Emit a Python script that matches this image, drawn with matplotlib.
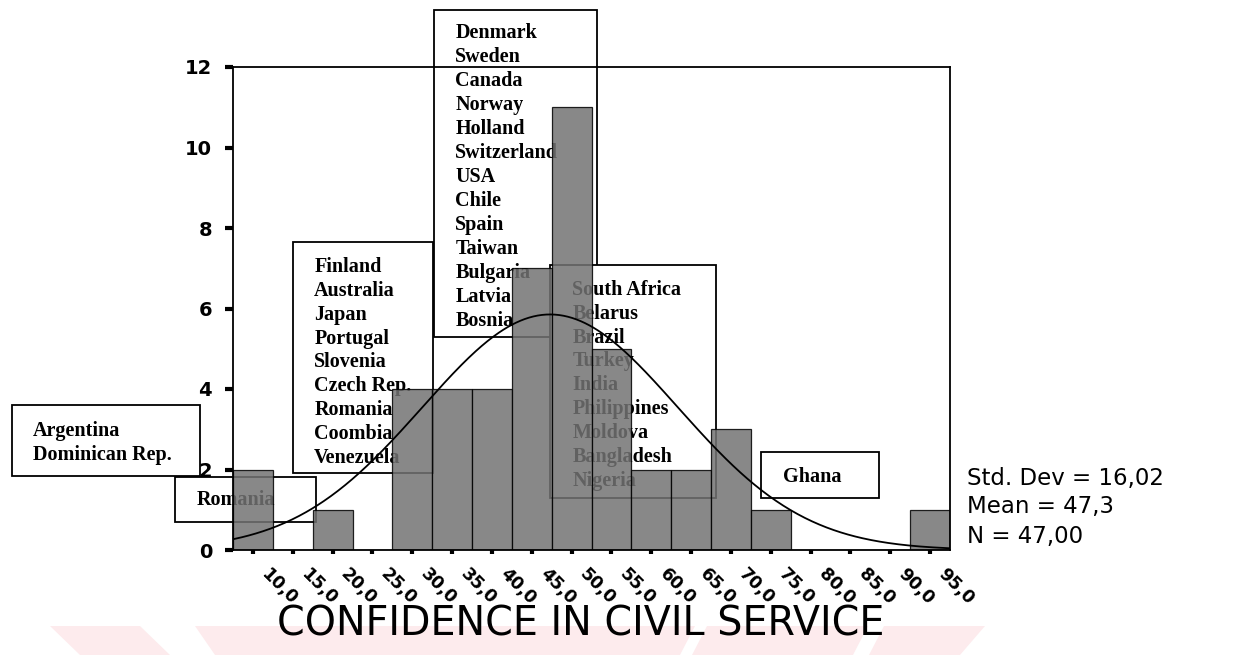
import numpy as np
import matplotlib
matplotlib.use("Agg")
import matplotlib.pyplot as plt
from matplotlib.patches import Rectangle, Polygon
from matplotlib.transforms import ScaledTranslation

# ---------------- data ----------------
bin_centers = [10, 15, 20, 25, 30, 35, 40, 45, 50, 55, 60, 65, 70, 75, 80, 85, 90, 95]
counts      = [2, 0, 1, 0, 4, 4, 4, 7, 11, 5, 2, 2, 3, 1, 0, 0, 0, 1]
bin_width = 5
tick_labels = ["10,0", "15,0", "20,0", "25,0", "30,0", "35,0", "40,0", "45,0", "50,0",
               "55,0", "60,0", "65,0", "70,0", "75,0", "80,0", "85,0", "90,0", "95,0"]
y_ticks = [0, 2, 4, 6, 8, 10, 12]
std_dev = 16.02
mean = 47.3
n_obs = 47
stats_lines = ["Std. Dev = 16,02", "Mean = 47,3", "N = 47,00"]
x_title = "CONFIDENCE IN CIVIL SERVICE"

group_argentina = ["Argentina", "Dominican Rep."]
group_romania = ["Romania"]
group_finland = ["Finland", "Australia", "Japan", "Portugal", "Slovenia",
                 "Czech Rep.", "Romania", "Coombia", "Venezuela"]
group_denmark = ["Denmark", "Sweden", "Canada", "Norway", "Holland", "Switzerland",
                 "USA", "Chile", "Spain", "Taiwan", "Bulgaria", "Latvia", "Bosnia"]
group_safrica = ["South Africa", "Belarus", "Brazil", "Turkey", "India",
                 "Philippines", "Moldova", "Bangladesh", "Nigeria"]
group_ghana = ["Ghana"]

# ---------------- figure ----------------
W, H = 1255, 655
fig = plt.figure(figsize=(W / 100, H / 100), dpi=100)
fig.patch.set_facecolor("white")

def px(x, y):
    return (x / W, 1 - y / H)

# faint pink watermark shapes behind the title
wm_shapes = [
    [(50, 626), (140, 626), (170, 655), (80, 655)],
    [(195, 626), (695, 626), (680, 655), (215, 655)],
    [(707, 626), (868, 626), (853, 655), (692, 655)],
    [(884, 626), (985, 626), (960, 655), (869, 655)],
]
for shp in wm_shapes:
    fig.patches.append(Polygon([px(*p) for p in shp], closed=True,
                               transform=fig.transFigure, facecolor="#fdebed",
                               edgecolor="none", zorder=0))

ax_left, ax_right, ax_top, ax_bot = 233, 950, 67, 550
ax = fig.add_axes([ax_left / W, 1 - ax_bot / H, (ax_right - ax_left) / W,
                   (ax_bot - ax_top) / H])
ax.set_xlim(7.5, 97.5)
ax.set_ylim(0, 12)
ax.set_facecolor("white")

serif = dict(family="Liberation Serif", weight="bold", fontsize=14.5)

def box(x0, x1, y0, y1, names, tx, ty0, dy):
    ax.add_patch(Rectangle((x0, y0), x1 - x0, y1 - y0, facecolor="white",
                           edgecolor="black", linewidth=1.3, zorder=1,
                           clip_on=False))
    for i, nm in enumerate(names):
        ax.text(tx, ty0 - i * dy, nm, ha="left", va="center", zorder=1.5,
                clip_on=False, **serif)

box(-20.2, 3.3, 1.85, 3.60, group_argentina, -17.6, 2.96, 0.595)
box(15.0, 32.6, 1.91, 7.65, group_finland, 17.7, 7.03, 0.592)
box(32.7, 53.2, 5.29, 13.42, group_denmark, 35.4, 12.84, 0.596)
box(47.3, 68.1, 1.29, 7.08, group_safrica, 50.1, 6.46, 0.592)
box(0.2, 17.9, 0.70, 1.81, group_romania, 3.0, 1.24, 0.59)
box(73.8, 88.6, 1.29, 2.43, group_ghana, 76.5, 1.82, 0.59)

# histogram bars
ax.bar(bin_centers, counts, width=bin_width, color="#737373", edgecolor="black",
       linewidth=0.9, alpha=0.85, zorder=3)

# fitted normal curve
xs = np.linspace(7.5, 97.5, 500)
ys = n_obs * bin_width / (std_dev * np.sqrt(2 * np.pi)) * np.exp(-0.5 * ((xs - mean) / std_dev) ** 2)
ax.plot(xs, ys, color="black", linewidth=1.3, zorder=4)

for s in ax.spines.values():
    s.set_linewidth(1.3)
    s.set_color("black")
    s.set_zorder(5)

ax.set_yticks(y_ticks)
ax.set_yticklabels([str(v) for v in y_ticks], family="DejaVu Sans",
                   fontsize=14, weight="bold")
ax.tick_params(axis="y", direction="out", length=6, width=3, pad=9)

ax.set_xticks(bin_centers)
ax.set_xticklabels([])
ax.tick_params(axis="x", direction="out", length=3, width=3)
off = ScaledTranslation(11 / 100, -21 / 100, fig.dpi_scale_trans)
for c, lab in zip(bin_centers, tick_labels):
    ax.text(c, 0, lab, transform=ax.get_xaxis_transform() + off,
            family="DejaVu Sans", fontsize=12.5, weight="bold", rotation=-45,
            rotation_mode="anchor", ha="left", va="center", clip_on=False)

for i, line in enumerate(stats_lines):
    fig.text(967 / W, 1 - (478 + i * 29) / H, line, family="DejaVu Sans",
             fontsize=16.5, ha="left", va="center")

fig.text(581 / W, 1 - 624 / H, x_title, family="DejaVu Sans", fontsize=28.5,
         ha="center", va="center", zorder=2)

fig.savefig("out.png", dpi=100, facecolor="white")
